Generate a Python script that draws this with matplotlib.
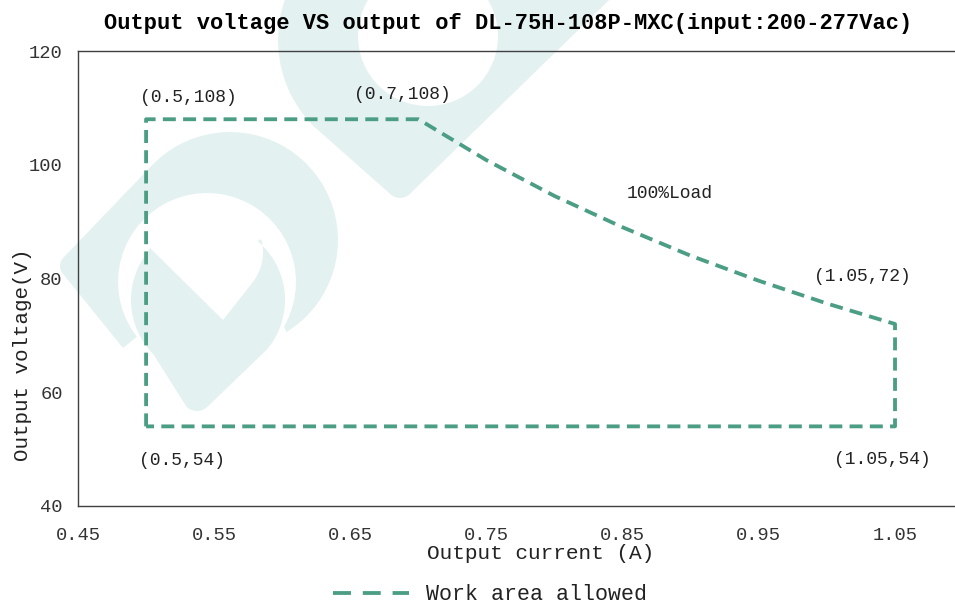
import matplotlib
matplotlib.use("Agg")
import matplotlib.pyplot as plt
from matplotlib.patches import Polygon, Circle
from matplotlib.lines import Line2D
import numpy as np

plt.rcParams["font.family"] = ["Liberation Mono", "DejaVu Sans Mono"]

LINE_GREEN = "#4B9E84"
MARK_TEAL = "#E4F1F1"
TEXT_DARK = "#222222"

# boundary of the allowed work area (current in A, voltage in V)
current = [0.50, 0.50, 0.70, 0.75, 0.80, 0.85, 0.90, 0.95, 1.00, 1.05, 1.05, 0.50]
voltage = [54, 108, 108, 100.8, 94.5, 89.0, 84.0, 79.6, 75.6, 72, 54, 54]

x_ticks = [0.45, 0.55, 0.65, 0.75, 0.85, 0.95, 1.05]
y_ticks = [40, 60, 80, 100, 120]

point_labels = ["(0.5,108)", "(0.7,108)", "100%Load", "(1.05,72)", "(1.05,54)", "(0.5,54)"]

title = "Output voltage VS output of DL-75H-108P-MXC(input:200-277Vac)"
legend_text = "Work area allowed"


def _arc(cx, cy, r, t0, t1, n=40):
    # arc in pixel coords, y pointing down, angles in degrees
    t = np.radians(np.linspace(t0, t1, n))
    return list(zip(cx + r * np.cos(t), cy + r * np.sin(t)))


def _add_watermark(bg):
    # upper "U" part of the logo
    upper = _arc(400, 40, 122, -100, -225)
    upper += _arc(400, 184, 14, 135, 45, 12)
    upper += [(640, -30)]
    bg.add_patch(Polygon(upper, closed=True, facecolor=MARK_TEAL, edgecolor="none"))
    bg.add_patch(Circle((428, 36), 70, facecolor="white", edgecolor="none"))

    # ring on the left
    ring = _arc(230, 240, 108, -135, 58.5)
    ring += _arc(207, 282, 89, 30, -218)
    ring += [(123, 348)]
    ring += _arc(72, 266, 12, 135, 225, 10)
    bg.add_patch(Polygon(ring, closed=True, facecolor=MARK_TEAL, edgecolor="none"))

    # pin shaped drop inside the ring
    drop = [(150, 248), (223, 320)]
    drop += _arc(213, 252, 50, 35, -15, 12)
    drop += _arc(208, 300, 77, -50, 40, 24)
    drop += _arc(197, 396, 15, 45, 135, 10)
    drop += _arc(208, 300, 77, 135, 215, 18)
    bg.add_patch(Polygon(drop, closed=True, facecolor=MARK_TEAL, edgecolor="none"))


fig = plt.figure(figsize=(9.55, 6.09), dpi=100, facecolor="white")

bg = fig.add_axes([0, 0, 1, 1], zorder=-1)
bg.set_xlim(0, 955)
bg.set_ylim(609, 0)
bg.axis("off")
_add_watermark(bg)

ax = fig.add_axes([78 / 955, 103 / 609, 1 - 78 / 955, 455 / 609])
ax.set_facecolor("none")

ax.plot(current, voltage, color=LINE_GREEN, linewidth=2.75,
        dashes=(3.4, 1.9), solid_joinstyle="miter", dash_capstyle="butt")

ax.set_xlim(0.45, 0.45 + 877 / 1361.7)
ax.set_ylim(40, 120)
ax.set_xticks(x_ticks)
ax.set_xticklabels([f"{t:.2f}" for t in x_ticks])
ax.set_yticks(y_ticks)
ax.tick_params(axis="x", length=0, pad=15, labelsize=13.5, colors="#333333")
ax.tick_params(axis="y", length=0, pad=11, labelsize=13.5, colors="#333333")

for side in ["left", "bottom", "top"]:
    ax.spines[side].set_color("#404040")
    ax.spines[side].set_linewidth(1.0)
ax.spines["right"].set_visible(False)

label_pos = [(0.5308, 111.9), (0.688, 112.3), (0.8848, 94.9),
             (1.0258, 80.3), (1.0404, 48.1), (0.5264, 48.0)]
for txt, (lx, ly) in zip(point_labels, label_pos):
    ax.text(lx, ly, txt, ha="center", va="center", fontsize=13, color=TEXT_DARK)

ax.set_xlabel("Output current (A)", fontsize=15.2, color=TEXT_DARK)
ax.set_ylabel("Output voltage(V)", fontsize=15, color=TEXT_DARK)
ax.xaxis.set_label_coords(0.528, -0.083)
ax.yaxis.set_label_coords(-0.052, 0.332)

ax.set_title(title, fontsize=15.8, fontweight="bold", color="black", pad=16,
             x=(508 - 78) / 877)

handle = Line2D([], [], color=LINE_GREEN, linewidth=2.75, dashes=(4.7, 3.1),
                dash_capstyle="butt")
fig.legend([handle], [legend_text], loc="center",
           bbox_to_anchor=(490 / 955, 14 / 609), frameon=False,
           fontsize=15.6, handlelength=3.5, handletextpad=0.8,
           labelcolor=TEXT_DARK)

fig.savefig("out.png", dpi=100, facecolor="white")
